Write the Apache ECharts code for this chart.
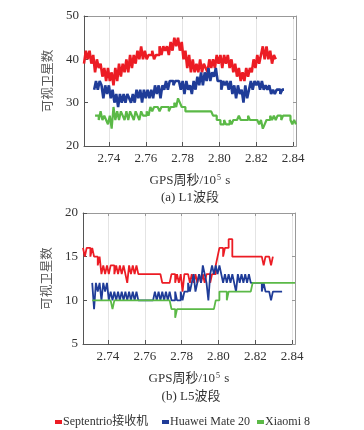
<!DOCTYPE html>
<html><head><meta charset="utf-8">
<script src="https://cdn.jsdelivr.net/npm/echarts@6/dist/echarts.min.js"></script>
<style>html,body{margin:0;padding:0;background:#fff}#c{width:364px;height:430px}</style>
</head><body><div id="c"></div>
<script>
// ---- data ----
const seriesNames = ['Septentrio接收机', 'Huawei Mate 20', 'Xiaomi 8'];
const xTicks = [2.74, 2.76, 2.78, 2.80, 2.82, 2.84];
const l1Ticks = [20, 30, 40, 50];
const l5Ticks = [5, 10, 15, 20];
const sampleStep = 0.001; // 10^5 s

// L1 band
const l1RedStart = 2.7265;
const l1Red = [39,42,40,42,39, 41,37,40,38, 39,36,38,35, 38,35,37,34,38, 35,39,36,39, 37,40,37,41, 38,41,39,42,
  40,43,40,42,40, 41,41,42,40,41,41, 43,41,43,42,43,41, 44,42,45,43,45, 42,44,40, 42,38,41,37,
  40,37,39,37,40,37,39,38, 37,40,38,40, 38,41,39,41,38,41,39,41,38,40, 37,39,36,38,
  35,37,35,38,36,38, 37,40,38,41,39,41, 43,40,43,40,42, 39,41,40];
const l1BlueStart = 2.7320;
const l1Blue = [33,35,33,35,34, 31,34,32,34,31, 33,30,32,29,32,30, 32,30,32,31,30,32,30,
  33,31,33,30,33,31,33,31,33, 31,34,32,34,31,34,33, 35,33,35,35,34,35,35,35,33,
  35,32,35,33,34,32, 35,33,36,34,37,34, 37,35,38,35,37,36,38,35, 35,33,35,34,35,33,35,
  32,34,31,34,32,33,30,34,31,33, 35,33,35,34,35,33,35,33,34,33,34, 32,33,32,33,33,32,33,33];
const l1GreenStart = 2.7325;
const l1Green = [27,27,26,28,26,27,26, 25,27,24,29,26,
  28,26,28,27,26,28,26,28,27,26,28,27,26,28,27,27, 28,27,29,28,29,
  29,29,28,29,29,29,29,28,29,29,30,29,31, 30,29,29,
  28,28,28,28,28,28,28,28,28,28,28,28,28,28,28, 27,27,26,26, 25,25,26,25,25,26,25,
  26,26,26,27,26,26,26,26,27,26,26,26,26,26, 25,26,24,25,26,
  26,27,26,27,26,27,27,26,27,27,27, 27,26,25,26,25];

// L5 band
const l5RedStart = 2.7265;
const l5Red = [16,15,16,16,15,16, 15,15,14,15,13,
  14,13,14,13,14,14,13,14,13,14,13,14,13,12,14,13,14,13,14,
  13,13,13,13,13,13,13,13,13,13,13,13,13, 12,12,12,12,12,
  13,13,12,13,12,13,11, 13,13,13,12,13, 12,13,12,13,12,13,12,13,
  13,12,13,13, 14, 15, 16,16,15,16, 16, 17,17,
  15,15,15,15,15,15,15,15,15,15,15,15,15,15,15,15,15,14,15,15,15,14,15];
const l5BlueStart = 2.7315;
const l5Blue = [12,9,12,11,12,10,12,11,12,
  10,11,10,11,10,11,10,11,10,11,10,11,10,11,10,11,
  10,10,10,10,10,10,10,10,10, 11,10,11,10,11,10,11,10,11,10,
  10,11,10,10,11,10,11, 11,12,11,12,13,11,12, 13,12,14,13,12,10,13,
  14,13,14,13,14,13,12, 13,12,13,12,13,12,11,13,12,13,12,13,12,13,12,
  12,12,12,12,12, 11,12,11, 11,11,10,11,11, 11,11,11,11];
const l5GreenStart = 2.7315;
const l5Green = [10,10,10,10,10,10,10,10,10,10,10, 9,
  10,10,10,10,10,10,10,10,10,10,10,10,10,10,10,10,10,10,10,10,10,10,10,10,10,10,10,10,10,10,10,
  9,9, 8, 9,9,9,9,9,9,9,9,9,9,9,9,9,9,9,9,9,9,9,9,9,
  10,10, 11,11,11,11, 10, 11,11,11,11,11,11,11,11,11,11,11,11,11,
  12,12,12,12,12,12,12,12,12,12,12,12,12,12,12,12,12,12,12,12,12,12,12,12];

const colors = ['#ec1c24', '#1f3c98', '#5bb947'];

function toPairs(start, vals) {
  return vals.map((v, i) => [Number((start + i * sampleStep).toFixed(4)), v]);
}

const FONT = "'Liberation Serif', 'Noto Sans CJK SC', serif";
const xMin = 2.7265, xMax = 2.8415;

function xAxes(grid) {
  return [
    { type: 'value', gridIndex: grid, min: xMin, max: xMax, position: 'bottom',
      name: 'GPS周秒/10{sup|5} s', nameLocation: 'middle', nameGap: 28,
      nameTextStyle: { fontFamily: FONT, fontSize: 13, color: '#333',
        rich: { sup: { fontFamily: FONT, fontSize: 8, color: '#333', verticalAlign: 'top', padding: [0, 1, 6, 1] } } },
      axisLine: { onZero: false, lineStyle: { color: '#555', width: 1 } },
      axisTick: { inside: true, length: 4, customValues: xTicks, lineStyle: { color: '#555' } },
      axisLabel: { customValues: xTicks, formatter: v => Number(v).toFixed(2), fontFamily: FONT, fontSize: 13, color: '#333', margin: 6 },
      splitLine: { show: true, lineStyle: { color: '#e4e4e4', width: 1 } } },
    { type: 'value', gridIndex: grid, min: xMin, max: xMax, position: 'top',
      axisLine: { onZero: false, lineStyle: { color: '#999', width: 1 } },
      axisTick: { inside: true, length: 3, customValues: xTicks, lineStyle: { color: '#999' } },
      axisLabel: { show: false }, splitLine: { show: false } }
  ];
}
function yAxes(grid, mn, mx, iv) {
  return [
    { type: 'value', gridIndex: grid, min: mn, max: mx, interval: iv, position: 'left',
      name: '可视卫星数', nameLocation: 'middle', nameGap: 26,
      nameTextStyle: { fontFamily: FONT, fontSize: 12.5, color: '#555' },
      axisLine: { show: true, onZero: false, lineStyle: { color: '#555', width: 1 } },
      axisTick: { show: true, inside: true, length: 4, lineStyle: { color: '#555' } },
      axisLabel: { fontFamily: FONT, fontSize: 13, color: '#333', margin: 5 },
      splitLine: { show: false } },
    { type: 'value', gridIndex: grid, min: mn, max: mx, interval: iv, position: 'right',
      axisLine: { show: true, onZero: false, lineStyle: { color: '#999', width: 1 } },
      axisTick: { show: true, inside: true, length: 3, lineStyle: { color: '#999' } },
      axisLabel: { show: false }, splitLine: { show: false } }
  ];
}

function lineSeries(name, color, data, xi, yi, w) {
  return { type: 'line', name, step: 'end', showSymbol: false, symbol: 'none',
    xAxisIndex: xi, yAxisIndex: yi, data, color,
    lineStyle: { color, width: w }, animation: false, z: 2 };
}

const chart = echarts.init(document.getElementById('c'), null, { renderer: 'canvas' });
const legendCommon = { orient: 'horizontal', icon: 'rect', itemWidth: 7, itemHeight: 4, itemGap: 0,
  textStyle: { fontFamily: FONT, fontSize: 12, color: '#333', padding: [0, 0, 0, -4] }, top: 411, selectedMode: false };
chart.setOption({
  animation: false,
  backgroundColor: '#fff',
  grid: [
    { left: 84, top: 16, width: 212, height: 130 },
    { left: 83, top: 213, width: 212, height: 131 }
  ],
  xAxis: [...xAxes(0), ...xAxes(1)],
  yAxis: [...yAxes(0, l1Ticks[0], l1Ticks[l1Ticks.length - 1], 10), ...yAxes(1, l5Ticks[0], l5Ticks[l5Ticks.length - 1], 5)],
  legend: [
    Object.assign({}, legendCommon, { left: 50, data: [seriesNames[0]] }),
    Object.assign({}, legendCommon, { left: 157, data: [seriesNames[1]] }),
    Object.assign({}, legendCommon, { left: 252, data: [seriesNames[2]] })
  ],
  graphic: [
    { type: 'text', x: 190, y: 198, style: { text: '(a) L1波段', font: "13px " + FONT, fill: '#333', textAlign: 'center', textVerticalAlign: 'middle' } },
    { type: 'text', x: 191, y: 397, style: { text: '(b) L5波段', font: "13px " + FONT, fill: '#333', textAlign: 'center', textVerticalAlign: 'middle' } }
  ],
  series: [
    lineSeries(seriesNames[0], colors[0], toPairs(l1RedStart, l1Red), 0, 0, 2.6),
    lineSeries(seriesNames[1], colors[1], toPairs(l1BlueStart, l1Blue), 0, 0, 2.6),
    lineSeries(seriesNames[2], colors[2], toPairs(l1GreenStart, l1Green), 0, 0, 2.2),
    lineSeries(seriesNames[0], colors[0], toPairs(l5RedStart, l5Red), 2, 2, 1.8),
    lineSeries(seriesNames[1], colors[1], toPairs(l5BlueStart, l5Blue), 2, 2, 1.8),
    lineSeries(seriesNames[2], colors[2], toPairs(l5GreenStart, l5Green), 2, 2, 1.8)
  ]
});
</script></body></html>
